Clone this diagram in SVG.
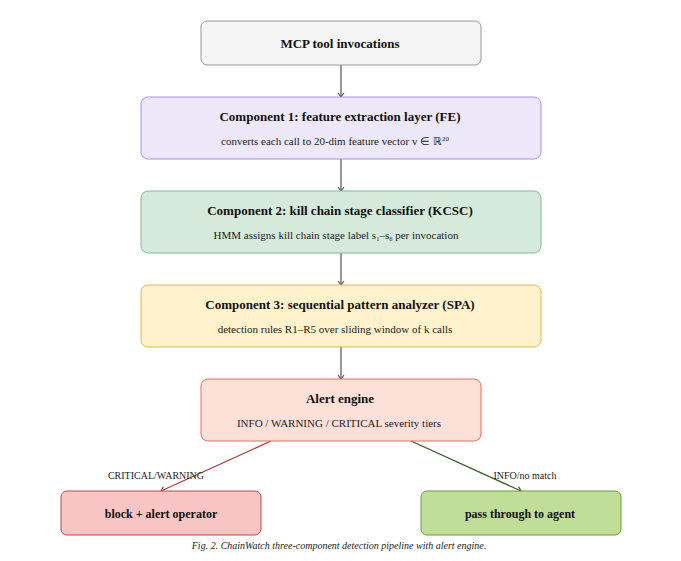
<svg xmlns="http://www.w3.org/2000/svg" width="681" height="561" viewBox="0 0 681 561">
<defs>
<style>
.t{font-family:"Liberation Serif","Times New Roman",serif;font-weight:bold;font-size:13px;fill:#111;text-anchor:middle}
.b{font-family:"Liberation Serif","Times New Roman",serif;font-weight:bold;font-size:12px;fill:#111;text-anchor:middle}
.s{font-family:"Liberation Serif","Times New Roman",serif;font-size:11px;fill:#222;text-anchor:middle}
.l{font-family:"Liberation Serif","Times New Roman",serif;font-size:10px;fill:#222;text-anchor:middle}
.cap{font-family:"Liberation Serif","Times New Roman",serif;font-style:italic;font-size:10px;fill:#222;text-anchor:middle}
.edge{fill:none;stroke-width:1.2}
</style>
<marker id="ag" markerWidth="8" markerHeight="8" refX="7" refY="4" orient="auto" markerUnits="userSpaceOnUse"><path d="M3,1 L7,4 L3,7" fill="none" stroke="#555" stroke-width="1.1"/></marker>
<marker id="ar" markerWidth="8" markerHeight="8" refX="7" refY="4" orient="auto" markerUnits="userSpaceOnUse"><path d="M3,1 L7,4 L3,7" fill="none" stroke="#b03a3a" stroke-width="1.1"/></marker>
<marker id="agr" markerWidth="8" markerHeight="8" refX="7" refY="4" orient="auto" markerUnits="userSpaceOnUse"><path d="M3,1 L7,4 L3,7" fill="none" stroke="#2f5a1e" stroke-width="1.1"/></marker>
</defs>
<rect width="681" height="561" fill="#fff"/>
<g id="connectors">
<line class="edge" x1="341" y1="65" x2="341" y2="97" stroke="#555" marker-end="url(#ag)"/>
<line class="edge" x1="341" y1="159" x2="341" y2="191" stroke="#555" marker-end="url(#ag)"/>
<line class="edge" x1="341" y1="253" x2="341" y2="285" stroke="#555" marker-end="url(#ag)"/>
<line class="edge" x1="341" y1="347" x2="341" y2="379" stroke="#555" marker-end="url(#ag)"/>
<line class="edge" x1="271" y1="441" x2="161" y2="491" stroke="#b03a3a" marker-end="url(#ar)"/>
<line class="edge" x1="411" y1="441" x2="521" y2="491" stroke="#2f5a1e" marker-end="url(#agr)"/>
<text class="l" x="156" y="479">CRITICAL/WARNING</text>
<text class="l" x="525" y="479">INFO/no match</text>
</g>
<g id="mcp">
<rect x="201" y="21" width="280" height="44" rx="6" fill="#f5f5f5" stroke="#999"/>
<text class="t" x="340" y="48">MCP tool invocations</text>
</g>
<g id="fe">
<rect x="141" y="97" width="400" height="62" rx="7" fill="#ece8f9" stroke="#a094e6"/>
<text class="t" x="340" y="121">Component 1: feature extraction layer (FE)</text>
<text class="s" x="335" y="145">converts each call to 20-dim feature vector v ∈ ℝ<tspan font-size="7" dy="-4">20</tspan></text>
</g>
<g id="kcsc">
<rect x="141" y="191" width="400" height="62" rx="7" fill="#d5eadb" stroke="#86b894"/>
<text class="t" x="340" y="215">Component 2: kill chain stage classifier (KCSC)</text>
<text class="s" x="336" y="239">HMM assigns kill chain stage label s<tspan font-size="6.5" dy="2">1</tspan><tspan dy="-2">–s</tspan><tspan font-size="6.5" dy="2">6</tspan><tspan dy="-2"> per invocation</tspan></text>
</g>
<g id="spa">
<rect x="141" y="285" width="400" height="62" rx="7" fill="#fff2cc" stroke="#dcb84e"/>
<text class="t" x="340" y="309">Component 3: sequential pattern analyzer (SPA)</text>
<text class="s" x="335" y="333">detection rules R1–R5 over sliding window of k calls</text>
</g>
<g id="alert">
<rect x="201" y="379" width="280" height="62" rx="7" fill="#fde0d8" stroke="#e0705c"/>
<text class="t" x="340" y="403">Alert engine</text>
<text class="s" x="339" y="427">INFO / WARNING / CRITICAL severity tiers</text>
</g>
<g id="block">
<rect x="61" y="491" width="200" height="44" rx="6" fill="#f8c4c4" stroke="#b84a4a"/>
<text class="b" x="161" y="518">block + alert operator</text>
</g>
<g id="pass">
<rect x="421" y="491" width="200" height="44" rx="6" fill="#c1de98" stroke="#6a9a3c"/>
<text class="b" x="520" y="518">pass through to agent</text>
</g>
<text class="cap" x="339" y="549">Fig. 2. ChainWatch three-component detection pipeline with alert engine.</text>
</svg>
